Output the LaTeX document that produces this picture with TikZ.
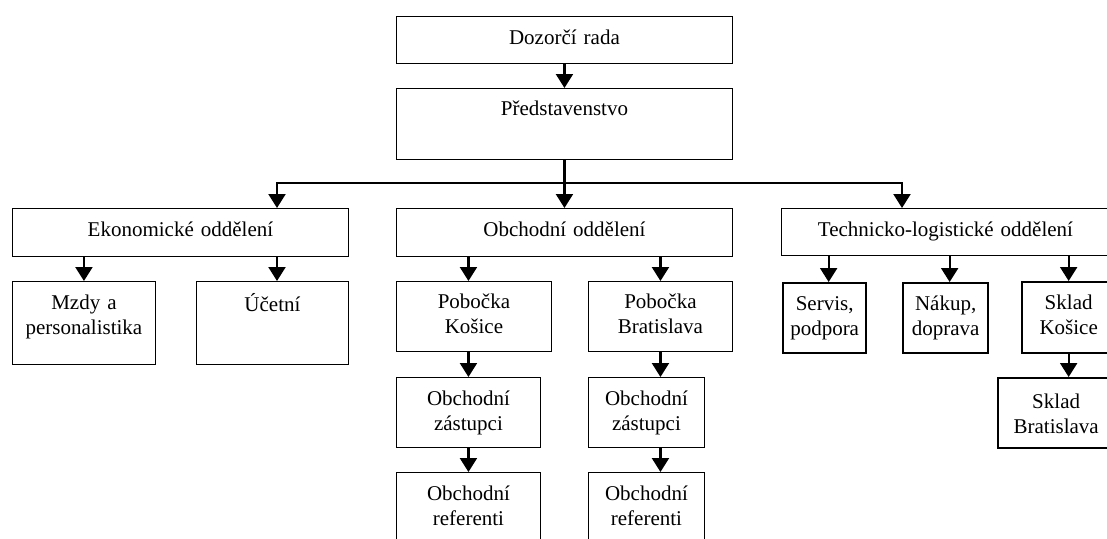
\documentclass[tikz,border=0pt]{standalone}
\usepackage{fontspec}
\setmainfont{Liberation Serif}
\usepackage{tikz}
\usetikzlibrary{arrows.meta, calc}

\begin{document}
\begin{tikzpicture}[
    x=1pt, y=-1pt,
    every node/.style={draw, rectangle, anchor=north west, align=center, inner sep=0pt, line width=0.9pt, font=\fontsize{21}{25}\selectfont},
    box/.style n args={3}{text width=#1pt, text height=#2pt, text depth=#3pt},
    thickbox/.style={line width=2.3pt},
    arr/.style={-{Triangle[width=17pt,length=14pt]}, line width=2.2pt, line join=miter}
]
\useasboundingbox (0,0) rectangle (1107,538);
\clip (0,0) rectangle (1107,538);

% vedení
\node[box={336}{28}{19}] (dozor) at (396,16) {Dozorčí rada};
\node[box={336}{27}{44}] (pred) at (396,88) {Představenstvo};

% oddělení
\node[box={336}{28}{20}] (ekon) at (12,208) {Ekonomické oddělení};
\node[box={336}{28}{20}] (obch) at (396,208) {Obchodní oddělení};
\node[box={328}{28}{19}] (tech) at (781,208) {Technicko-logistické oddělení};

% ekonomické
\node[box={143}{28}{55}] (mzdy) at (12,281) {Mzdy a\\personalistika};
\node[box={152}{30}{53}] (ucet) at (196,281) {Účetní};

% obchodní
\node[box={155}{27}{43}] (pobk) at (396,281) {Pobočka\\Košice};
\node[box={144}{27}{43}] (pobb) at (588,281) {Pobočka\\Bratislava};
\node[box={144}{28}{42}] (zask) at (396,377) {Obchodní\\zástupci};
\node[box={116}{28}{42}] (zasb) at (588,377) {Obchodní\\zástupci};
\node[box={144}{28}{80}] (refk) at (396,472) {Obchodní\\referenti};
\node[box={116}{28}{80}] (refb) at (588,472) {Obchodní\\referenti};

% technicko-logistické
\node[box={83}{27}{43}, thickbox] (serv) at (782,282) {Servis,\\podpora};
\node[box={85}{27}{43}, thickbox] (naku) at (902,282) {Nákup,\\doprava};
\node[box={93}{27}{44}, thickbox] (sklk) at (1021,281) {Sklad\\Košice};
\node[box={116}{30}{40}, thickbox] (sklb) at (997,377) {Sklad\\Bratislava};

% spojnice
\coordinate (busl) at (277,183);
\coordinate (busr) at (902,183);
\draw[arr] (dozor.south) -- (pred.north);
\draw[arr] (pred.south) -- (obch.north);
\draw[arr] (pred.south |- busl) -- (busl) -- (busl |- ekon.north);
\draw[arr] (pred.south |- busr) -- (busr) -- (busr |- tech.north);

\draw[arr] (ekon.south -| mzdy.north) -- (mzdy.north);
\draw[arr] (ekon.south -| busl) -- (ucet.north -| busl);

\draw[arr] (obch.south -| zask.north) -- (pobk.north -| zask.north);
\draw[arr] (obch.south -| pobb.north) -- (pobb.north);
\draw[arr] (pobk.south -| zask.north) -- (zask.north);
\draw[arr] (zask.south) -- (refk.north);
\draw[arr] (pobb.south) -- (pobb.south |- zasb.north);
\draw[arr] (zasb.south -| pobb.south) -- (refb.north -| pobb.south);

\draw[arr] ([xshift=4pt]tech.south -| serv.north) -- ([xshift=4pt]serv.north);
\draw[arr] ([xshift=4pt]tech.south -| naku.north) -- ([xshift=4pt]naku.north);
\draw[arr] (tech.south -| sklk.north) -- (sklk.north);
\draw[arr] (sklk.south) -- (sklk.south |- sklb.north);

\end{tikzpicture}
\end{document}
